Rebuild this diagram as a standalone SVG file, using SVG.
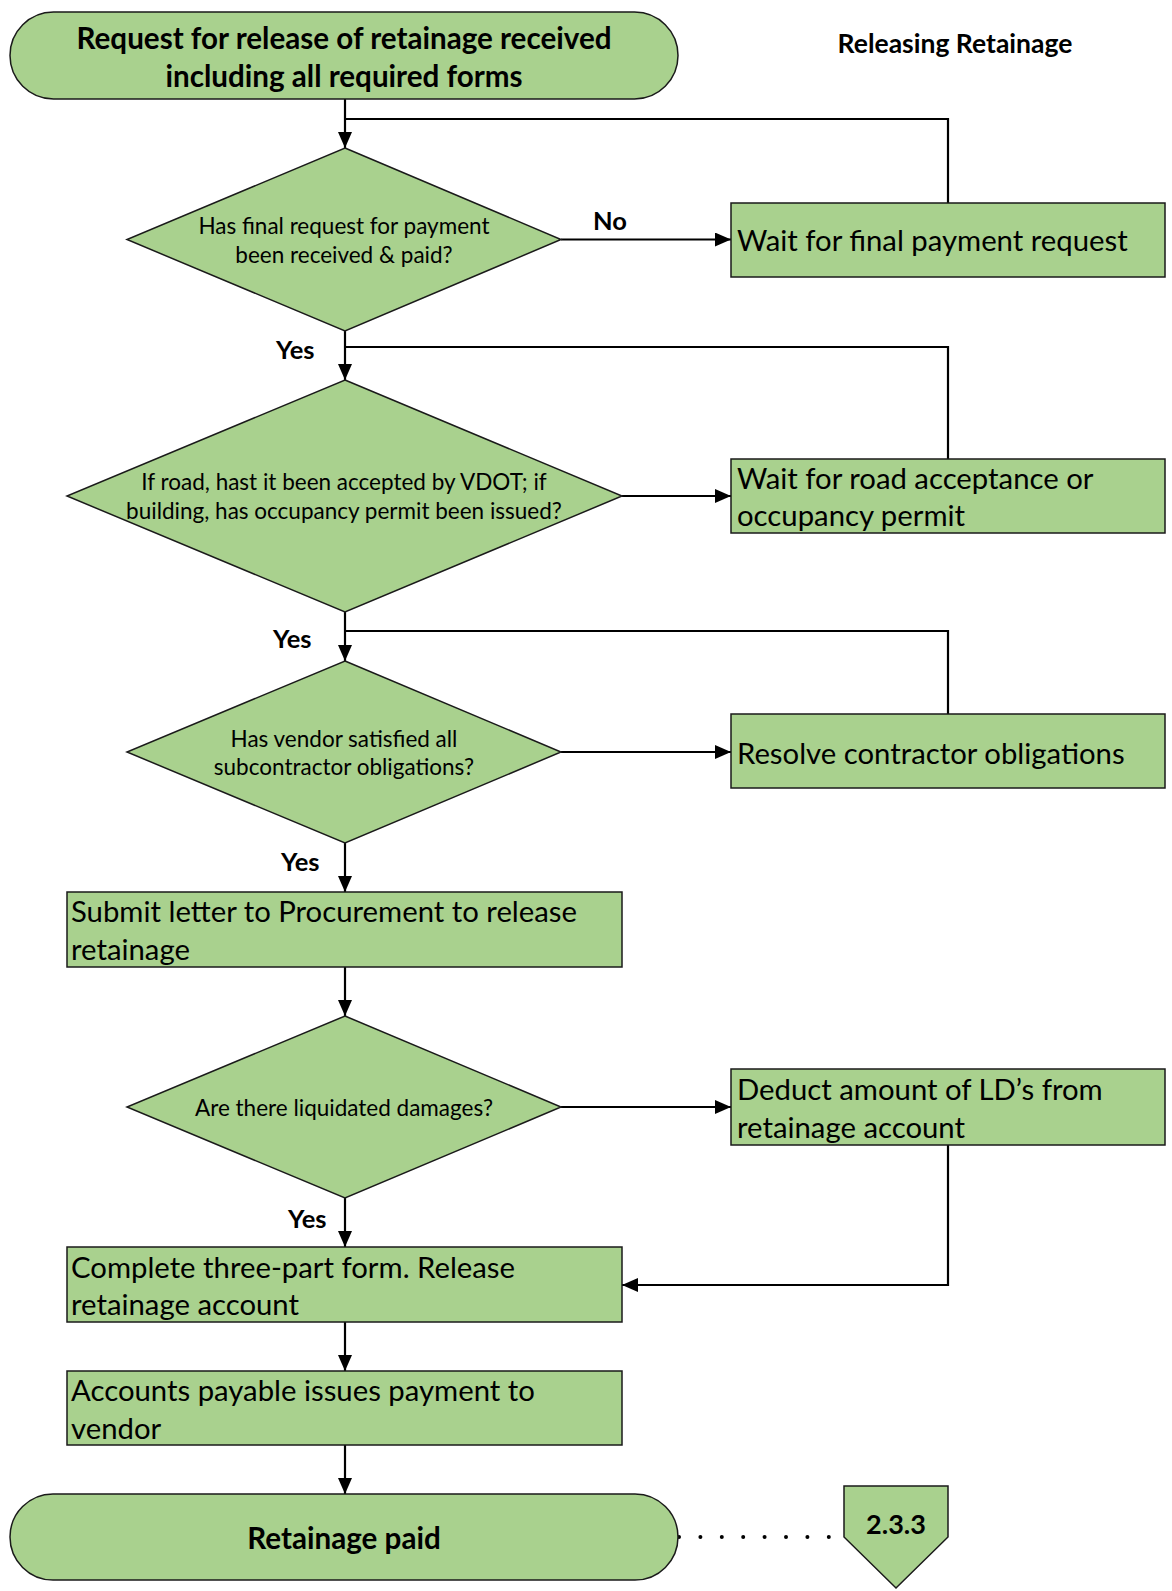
<svg xmlns="http://www.w3.org/2000/svg" width="1172" height="1591" viewBox="0 0 1172 1591">
  <style>
    .shape { fill: #A9D18E; stroke: #1a1a1a; stroke-width: 1.5; }
    .conn { fill: none; stroke: #000; stroke-width: 2.2; }
    .dots { fill: none; stroke: #000; stroke-width: 4; stroke-linecap: round; stroke-dasharray: 0 21.4; }
    text { font-family: Lato, "Liberation Sans", sans-serif; fill: #000; dominant-baseline: central; }
    .term { font-size: 29.6px; font-weight: bold; text-anchor: middle; }
    .conn-id { font-size: 27px; font-weight: bold; text-anchor: middle; }
    .dec { font-size: 22.5px; text-anchor: middle; }
    .box { font-size: 29.3px; }
    .lbl { font-size: 25.5px; font-weight: bold; }
    .title { font-size: 26.5px; font-weight: bold; text-anchor: middle; }
  </style>
  <defs>
    <marker id="arrow" markerUnits="userSpaceOnUse" markerWidth="16" markerHeight="14" refX="16" refY="7" orient="auto">
      <path d="M0,0 L16,7 L0,14 Z" fill="#000"/>
    </marker>
  </defs>

  <rect width="1172" height="1591" fill="#fff"/>

  <text class="title" x="955" y="43">Releasing Retainage</text>

  <!-- connectors -->
  <g id="connectors">
    <path class="conn" d="M345,99 V148" marker-end="url(#arrow)"/>
    <path class="conn" d="M948,203 V119 H345"/>
    <path class="conn" d="M561,239.5 H731" marker-end="url(#arrow)"/>
    <path class="conn" d="M345,331 V380" marker-end="url(#arrow)"/>
    <path class="conn" d="M948,459 V347 H345"/>
    <path class="conn" d="M622,496 H731" marker-end="url(#arrow)"/>
    <path class="conn" d="M345,612 V661" marker-end="url(#arrow)"/>
    <path class="conn" d="M948,714 V631 H345"/>
    <path class="conn" d="M561,752 H731" marker-end="url(#arrow)"/>
    <path class="conn" d="M345,843 V892" marker-end="url(#arrow)"/>
    <path class="conn" d="M345,967 V1016" marker-end="url(#arrow)"/>
    <path class="conn" d="M561,1107 H731" marker-end="url(#arrow)"/>
    <path class="conn" d="M345,1198 V1247" marker-end="url(#arrow)"/>
    <path class="conn" d="M948,1145 V1285 H622" marker-end="url(#arrow)"/>
    <path class="conn" d="M345,1322 V1371" marker-end="url(#arrow)"/>
    <path class="conn" d="M345,1445 V1494" marker-end="url(#arrow)"/>
    <path class="dots" d="M679,1537 H835"/>
    <text class="lbl" x="593" y="220">No</text>
    <text class="lbl" x="276" y="349">Yes</text>
    <text class="lbl" x="273" y="638">Yes</text>
    <text class="lbl" x="281" y="861">Yes</text>
    <text class="lbl" x="288" y="1218">Yes</text>
  </g>

  <g id="start">
    <rect class="shape" x="10" y="12" width="668" height="87" rx="43.5" ry="43.5"/>
    <text class="term" x="344" y="37.5">Request for release of retainage received</text>
    <text class="term" x="344" y="75">including all required forms</text>
  </g>

  <g id="decision-final-payment">
    <polygon class="shape" points="345,148 561,239.5 345,331 127,239.5"/>
    <text class="dec" x="344" y="225">Has final request for payment</text>
    <text class="dec" x="344" y="254">been received &amp; paid?</text>
  </g>

  <g id="wait-final-payment">
    <rect class="shape" x="731" y="203" width="434" height="74"/>
    <text class="box" x="737" y="239.5">Wait for final payment request</text>
  </g>

  <g id="decision-acceptance">
    <polygon class="shape" points="345,380 622,496 345,612 67,496"/>
    <text class="dec" x="344" y="481">If road, hast it been accepted by VDOT; if</text>
    <text class="dec" x="344" y="510">building, has occupancy permit been issued?</text>
  </g>

  <g id="wait-acceptance">
    <rect class="shape" x="731" y="459" width="434" height="74"/>
    <text class="box" x="737" y="477">Wait for road acceptance or</text>
    <text class="box" x="737" y="514">occupancy permit</text>
  </g>

  <g id="decision-subcontractors">
    <polygon class="shape" points="345,661 561,752 345,843 127,752"/>
    <text class="dec" x="344" y="738">Has vendor satisfied all</text>
    <text class="dec" x="344" y="766">subcontractor obligations?</text>
  </g>

  <g id="resolve-obligations">
    <rect class="shape" x="731" y="714" width="434" height="74"/>
    <text class="box" x="737" y="752">Resolve contractor obligations</text>
  </g>

  <g id="submit-letter">
    <rect class="shape" x="67" y="892" width="555" height="75"/>
    <text class="box" x="71" y="910">Submit letter to Procurement to release</text>
    <text class="box" x="71" y="948">retainage</text>
  </g>

  <g id="decision-damages">
    <polygon class="shape" points="345,1016 561,1107 345,1198 127,1107"/>
    <text class="dec" x="344" y="1107">Are there liquidated damages?</text>
  </g>

  <g id="deduct-ld">
    <rect class="shape" x="731" y="1069" width="434" height="76"/>
    <text class="box" x="737" y="1088">Deduct amount of LD’s from</text>
    <text class="box" x="737" y="1126">retainage account</text>
  </g>

  <g id="complete-form">
    <rect class="shape" x="67" y="1247" width="555" height="75"/>
    <text class="box" x="71" y="1266">Complete three-part form. Release</text>
    <text class="box" x="71" y="1303">retainage account</text>
  </g>

  <g id="accounts-payable">
    <rect class="shape" x="67" y="1371" width="555" height="74"/>
    <text class="box" x="71" y="1389">Accounts payable issues payment to</text>
    <text class="box" x="71" y="1427">vendor</text>
  </g>

  <g id="end">
    <rect class="shape" x="10" y="1494" width="668" height="86" rx="43" ry="43"/>
    <text class="term" x="344" y="1537">Retainage paid</text>
  </g>

  <g id="offpage-2-3-3">
    <polygon class="shape" points="844,1486 948,1486 948,1537 896,1588 844,1537"/>
    <text class="conn-id" x="896" y="1523">2.3.3</text>
  </g>
</svg>
